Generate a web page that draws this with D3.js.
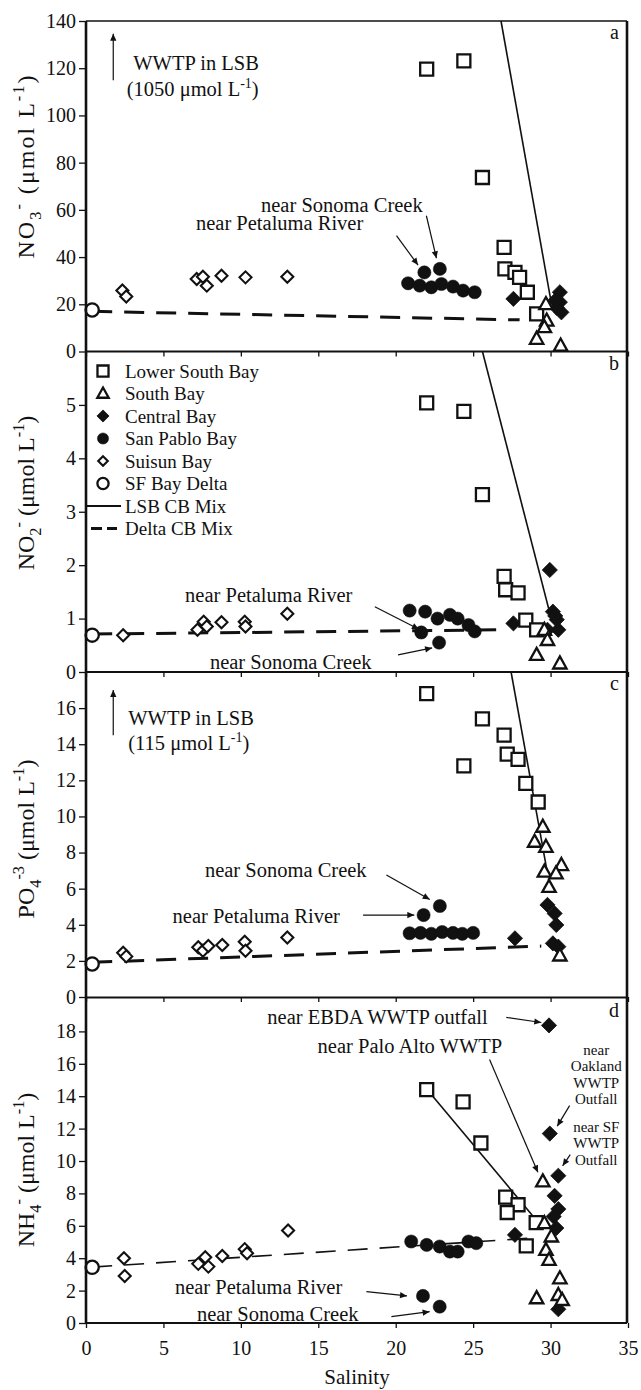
<!DOCTYPE html>
<html>
<head>
<meta charset="utf-8">
<script src="https://cdn.jsdelivr.net/npm/d3@7"></script>
<style>
  body { margin: 0; background: #fff; }
  svg { display: block; }
  text { font-family: "Liberation Serif", "Times New Roman", serif; fill: #111; }
</style>
</head>
<body>
<svg id="chart" width="641" height="1390"></svg>
<script>
// ---- axis ticks ----
const salinityTicks = [0, 5, 10, 15, 20, 25, 30, 35];
const no3Ticks = [0, 20, 40, 60, 80, 100, 120, 140];
const no2Ticks = [0, 1, 2, 3, 4, 5];
const po4Ticks = [0, 2, 4, 6, 8, 10, 12, 14, 16];
const nh4Ticks = [0, 2, 4, 6, 8, 10, 12, 14, 16, 18];

// ---- nitrate [salinity, µmol/L] ----
const deltaNO3 = [[0.4, 17.6]];
const suisunNO3 = [[2.35, 25.8], [2.6, 23.3], [7.15, 30.7], [7.55, 31.7], [7.8, 27.9], [8.75, 32.1], [10.3, 31.4], [13.0, 31.7]];
const sanPabloNO3 = [[20.8, 28.9], [21.55, 27.9], [22.3, 27.2], [22.95, 28.6], [23.7, 27.5], [24.35, 25.8], [25.1, 25.1], [21.85, 33.5], [22.85, 35.0]];
const centralNO3 = [[27.6, 22.3], [30.6, 25.1], [30.3, 21.6], [30.6, 20.9], [30.7, 16.6], [30.4, 18.5]];
const lsbNO3 = [[22.0, 119.6], [24.4, 123.1], [25.6, 73.7], [27.0, 44.1], [27.05, 35.0], [27.7, 33.5], [28.0, 31.4], [28.5, 25.1], [29.1, 15.9]];
const southBayNO3 = [[29.7, 20.1], [29.75, 13.1], [29.6, 10.3], [29.1, 5.4], [30.65, 2.5]];
const deltaMixNO3 = [[0.4, 17.0], [28.0, 13.4]];
const lsbMixNO3 = [[26.8, 140], [30.0, 22.3]];

// ---- nitrite ----
const deltaNO2 = [[0.4, 0.69]];
const suisunNO2 = [[2.4, 0.69], [7.2, 0.79], [7.6, 0.94], [7.8, 0.85], [8.75, 0.93], [10.25, 0.94], [10.3, 0.85], [13.0, 1.09]];
const sanPabloNO2 = [[20.9, 1.15], [21.9, 1.13], [22.7, 1.0], [23.5, 1.07], [24.0, 1.0], [24.7, 0.88], [25.1, 0.76], [21.65, 0.74], [22.8, 0.55]];
const centralNO2 = [[29.95, 1.91], [27.6, 0.91], [30.15, 1.13], [30.4, 0.98], [30.5, 0.79], [29.8, 0.79], [30.3, 1.05]];
const lsbNO2 = [[22.0, 5.04], [24.4, 4.88], [25.6, 3.32], [27.0, 1.79], [27.1, 1.54], [27.9, 1.48], [28.4, 0.97], [29.1, 0.79]];
const southBayNO2 = [[29.6, 0.79], [29.8, 0.6], [29.1, 0.32], [30.6, 0.16]];
const deltaMixNO2 = [[0.4, 0.71], [26.8, 0.79]];
const lsbMixNO2 = [[25.6, 6], [29.9, 1.16]];

// ---- phosphate ----
const deltaPO4 = [[0.4, 1.83]];
const suisunPO4 = [[2.4, 2.45], [2.6, 2.25], [7.25, 2.75], [7.55, 2.56], [7.9, 2.82], [8.8, 2.88], [10.25, 3.06], [10.3, 2.56], [13.0, 3.3]];
const sanPabloPO4 = [[20.9, 3.53], [21.6, 3.55], [22.3, 3.5], [23.0, 3.6], [23.7, 3.55], [24.3, 3.5], [25.0, 3.55], [21.8, 4.54], [22.85, 5.04]];
const centralPO4 = [[27.7, 3.25], [29.8, 5.1], [30.26, 4.63], [30.37, 3.99], [30.15, 2.97], [30.5, 2.79]];
const lsbPO4 = [[22.0, 16.8], [24.4, 12.8], [25.6, 15.4], [27.0, 14.5], [27.2, 13.45], [27.9, 13.16], [28.4, 11.83], [29.2, 10.8]];
const southBayPO4 = [[29.5, 9.43], [28.97, 8.6], [29.7, 8.32], [30.7, 7.31], [29.6, 6.94], [30.35, 6.85], [29.9, 6.1], [30.6, 2.3]];
const deltaMixPO4 = [[0.4, 1.92], [29.4, 2.82]];
const lsbMixPO4 = [[27.45, 18], [29.8, 6.85]];

// ---- ammonium ----
const deltaNH4 = [[0.4, 3.44]];
const suisunNH4 = [[2.45, 4.0], [2.5, 2.9], [7.25, 3.65], [7.7, 4.06], [7.9, 3.48], [8.8, 4.14], [10.25, 4.56], [10.4, 4.31], [13.05, 5.71]];
const sanPabloNH4 = [[21.0, 5.03], [22.0, 4.82], [22.84, 4.72], [23.5, 4.41], [24.0, 4.41], [24.7, 5.03], [25.2, 4.93], [21.76, 1.67], [22.84, 1.01]];
const centralNH4 = [[29.9, 18.37], [29.95, 11.69], [30.5, 9.09], [30.26, 7.85], [30.5, 7.03], [30.2, 6.57], [30.37, 5.86], [27.7, 5.44], [30.5, 0.85]];
const lsbNH4 = [[22.0, 14.41], [24.35, 13.65], [25.5, 11.11], [27.1, 7.77], [27.9, 7.3], [27.2, 6.82], [29.07, 6.2], [28.43, 4.76]];
const southBayNH4 = [[29.5, 8.74], [29.6, 6.17], [30.05, 5.34], [29.7, 4.51], [29.9, 3.9], [30.6, 2.76], [29.1, 1.53], [30.5, 1.73], [30.75, 1.42]];
const deltaMixNH4 = [[0.4, 3.45], [28.9, 5.25]];
const lsbMixNH4 = [[22.0, 14.45], [29.3, 6.1]];

// ---- legend ----
const legendNames = ["Lower South Bay", "South Bay", "Central Bay", "San Pablo Bay", "Suisun Bay", "SF Bay Delta", "LSB CB Mix", "Delta CB Mix"];

// ================= drawing =================
const svg = d3.select("#chart");
const INK = "#111";
const x = d3.scaleLinear().domain([0, 35]).range([86, 628]);

const defs = svg.append("defs");
defs.append("marker").attr("id", "ah")
  .attr("viewBox", "0 0 10 10").attr("refX", 10).attr("refY", 5)
  .attr("markerWidth", 8).attr("markerHeight", 7)
  .attr("markerUnits", "userSpaceOnUse").attr("orient", "auto")
  .append("path").attr("d", "M0,0.5L10,5L0,9.5Z").attr("fill", INK);

const shapes = {
  square: s => `M${-s},${-s}h${2 * s}v${2 * s}h${-2 * s}Z`,
  triangle: s => `M0,${-s * 1.05}L${s},${s * 0.75}L${-s},${s * 0.75}Z`,
  diamond: s => `M0,${-s}L${s},0L0,${s}L${-s},0Z`
};

// symbol styles per station group
const styles = {
  lsb:      { shape: "square",   size: 6.5, fill: "#fff", sw: 2.3 },
  southBay: { shape: "triangle", size: 6.7, fill: "#fff", sw: 2.3 },
  central:  { shape: "diamond",  size: 7.6, fill: INK,    sw: 0.8 },
  sanPablo: { shape: "circle",   size: 6.6, fill: INK,    sw: 0.5 },
  suisun:   { shape: "diamond",  size: 6.0, fill: "#fff", sw: 2.1 },
  delta:    { shape: "circle",   size: 6.6, fill: "#fff", sw: 2.3 }
};

function drawMarks(g, data, st, sy, scale = 1) {
  if (st.shape === "circle") {
    g.selectAll(null).data(data).join("circle")
      .attr("cx", d => x(d[0])).attr("cy", d => sy(d[1]))
      .attr("r", st.size * scale)
      .attr("fill", st.fill).attr("stroke", INK).attr("stroke-width", st.sw);
  } else {
    g.selectAll(null).data(data).join("path")
      .attr("transform", d => `translate(${x(d[0])},${sy(d[1])})`)
      .attr("d", shapes[st.shape](st.size * scale))
      .attr("fill", st.fill).attr("stroke", INK).attr("stroke-width", st.sw)
      .attr("stroke-linejoin", "miter");
  }
}

function chemTitle(g, parts, cx, cy, fs) {
  const t = g.append("text")
    .attr("transform", `translate(${cx},${cy}) rotate(-90)`)
    .attr("text-anchor", "middle").attr("font-size", fs);
  let shift = 0;
  parts.forEach(([str, kind]) => {
    const target = kind === "sub" ? fs * 0.3 : kind === "sup" ? -fs * 0.42 : 0;
    t.append("tspan").attr("dy", target - shift)
      .attr("font-size", kind ? fs * 0.68 : fs).text(str);
    shift = target;
  });
  return t;
}

function richText(g, parts, px, py, fs, anchor = "start") {
  const t = g.append("text").attr("x", px).attr("y", py)
    .attr("font-size", fs).attr("text-anchor", anchor);
  let shift = 0;
  parts.forEach(([str, kind]) => {
    const target = kind === "sup" ? -fs * 0.4 : 0;
    t.append("tspan").attr("dy", target - shift)
      .attr("font-size", kind ? fs * 0.68 : fs).text(str);
    shift = target;
  });
  return t;
}

function arrow(g, sy, from, to) {
  g.append("line")
    .attr("x1", x(from[0])).attr("y1", sy(from[1]))
    .attr("x2", x(to[0])).attr("y2", sy(to[1]))
    .attr("stroke", INK).attr("stroke-width", 1.2)
    .attr("marker-end", "url(#ah)");
}

const panels = [
  { tag: "a", top: 21, bottom: 351.5, max: 140, ticks: no3Ticks,
    title: [["NO"], ["3", "sub"], ["-", "sup"], [" (μmol L"], ["-1", "sup"], [")"]], titleY: 167, titleLen: 183,
    delta: deltaNO3, suisun: suisunNO3, sanPablo: sanPabloNO3, central: centralNO3, lsb: lsbNO3, southBay: southBayNO3,
    deltaMix: deltaMixNO3, lsbMix: lsbMixNO3, dash: 3 },
  { tag: "b", top: 351.5, bottom: 672, max: 6, ticks: no2Ticks,
    title: [["NO"], ["2", "sub"], ["-", "sup"], [" (μmol L"], ["-1", "sup"], [")"]], titleY: 493, titleLen: 0,
    delta: deltaNO2, suisun: suisunNO2, sanPablo: sanPabloNO2, central: centralNO2, lsb: lsbNO2, southBay: southBayNO2,
    deltaMix: deltaMixNO2, lsbMix: lsbMixNO2, dash: 3 },
  { tag: "c", top: 672, bottom: 997, max: 18, ticks: po4Ticks,
    title: [["PO"], ["4", "sub"], ["-3", "sup"], [" (μmol L"], ["-1", "sup"], [")"]], titleY: 839, titleLen: 0,
    delta: deltaPO4, suisun: suisunPO4, sanPablo: sanPabloPO4, central: centralPO4, lsb: lsbPO4, southBay: southBayPO4,
    deltaMix: deltaMixPO4, lsbMix: lsbMixPO4, dash: 3 },
  { tag: "d", top: 999, bottom: 1323, max: 20, ticks: nh4Ticks,
    title: [["NH"], ["4", "sub"], ["-", "sup"], [" (μmol L"], ["-1", "sup"], [")"]], titleY: 1170, titleLen: 0,
    delta: deltaNH4, suisun: suisunNH4, sanPablo: sanPabloNH4, central: centralNH4, lsb: lsbNH4, southBay: southBayNH4,
    deltaMix: deltaMixNH4, lsbMix: lsbMixNH4, dash: 1.6 }
];

const line = d3.line();

panels.forEach((p, i) => {
  const y = d3.scaleLinear().domain([0, p.max]).range([p.bottom, p.top]);
  const g = svg.append("g");

  // y axis ticks and labels
  const ya = g.append("g").attr("transform", `translate(${x(0)},0)`)
    .call(d3.axisLeft(y).tickValues(p.ticks).tickSize(7).tickPadding(3).tickFormat(d3.format("d")));
  ya.select(".domain").remove();
  ya.selectAll("line").attr("stroke", INK).attr("stroke-width", 1.3);
  ya.selectAll("text").attr("font-size", 20).attr("font-family", null).attr("fill", INK);

  // x axis ticks (labels only on the bottom panel)
  const last = i === panels.length - 1;
  const xa = g.append("g").attr("transform", `translate(0,${p.bottom})`)
    .call(d3.axisBottom(x).tickValues(salinityTicks).tickSize(5).tickPadding(13)
      .tickFormat(last ? d3.format("d") : () => ""));
  xa.select(".domain").remove();
  xa.selectAll("line").attr("stroke", INK).attr("stroke-width", 1.3);
  xa.selectAll("text").attr("font-size", 20).attr("font-family", null).attr("fill", INK);

  // y axis title
  const tt = chemTitle(g, p.title, 34, p.titleY, 24);
  if (p.titleLen) tt.attr("textLength", p.titleLen).attr("lengthAdjust", "spacing");

  // mixing lines
  g.append("path").attr("d", line(p.deltaMix.map(d => [x(d[0]), y(d[1])])))
    .attr("fill", "none").attr("stroke", INK).attr("stroke-width", p.dash)
    .attr("stroke-dasharray", "20,12");
  g.append("path").attr("d", line(p.lsbMix.map(d => [x(d[0]), y(d[1])])))
    .attr("fill", "none").attr("stroke", INK).attr("stroke-width", 1.6);

  // station symbols
  drawMarks(g, p.suisun, styles.suisun, y);
  drawMarks(g, p.delta, styles.delta, y);
  drawMarks(g, p.sanPablo, styles.sanPablo, y);
  drawMarks(g, p.central, styles.central, y);
  drawMarks(g, p.lsb, styles.lsb, y);
  drawMarks(g, p.southBay, styles.southBay, y);

  // panel letter
  g.append("text").attr("x", 619).attr("y", y(p.max) + 18).attr("text-anchor", "end")
    .attr("font-size", 20).text(p.tag);

  p.y = y;
  p.g = g;
});

// ---- annotations ----
const [pa, pb, pc, pd] = panels;
const AF = 20.5;

// panel a
richText(pa.g, [["WWTP in LSB"]], x(3.05), pa.y(119.3), AF);
richText(pa.g, [["(1050 μmol L"], ["-1", "sup"], [")"]], x(2.63), pa.y(108.3), AF);
arrow(pa.g, pa.y, [1.76, 114.9], [1.76, 134.6]);
richText(pa.g, [["near Sonoma Creek"]], x(11.3), pa.y(59.3), AF);
arrow(pa.g, pa.y, [21.98, 57.5], [22.63, 39.5]);
richText(pa.g, [["near Petaluma River"]], x(7.1), pa.y(51.3), AF);
arrow(pa.g, pa.y, [20.05, 49.1], [21.44, 36.6]);

// panel b
richText(pb.g, [["near Petaluma River"]], x(6.4), pb.y(1.31), AF);
arrow(pb.g, pb.y, [18.65, 1.22], [21.5, 0.8]);
richText(pb.g, [["near Sonoma Creek"]], x(8.0), pb.y(0.06), AF);
arrow(pb.g, pb.y, [20.15, 0.32], [22.35, 0.45]);

// panel c
richText(pc.g, [["WWTP in LSB"]], x(2.73), pc.y(15.04), AF);
richText(pc.g, [["(115 μmol L"], ["-1", "sup"], [")"]], x(2.73), pc.y(13.66), AF);
arrow(pc.g, pc.y, [1.76, 14.5], [1.76, 17.0]);
richText(pc.g, [["near Sonoma Creek"]], x(7.68), pc.y(6.64), AF);
arrow(pc.g, pc.y, [19.4, 6.76], [22.2, 5.4]);
richText(pc.g, [["near Petaluma River"]], x(5.59), pc.y(4.1), AF);
arrow(pc.g, pc.y, [17.89, 4.54], [21.2, 4.54]);

// panel d
richText(pd.g, [["near EBDA WWTP outfall"]], x(25.94), pd.y(18.43), AF, "end");
arrow(pd.g, pd.y, [27.14, 18.86], [29.4, 18.55]);
richText(pd.g, [["near Palo Alto WWTP"]], x(26.88), pd.y(16.65), AF, "end");
arrow(pd.g, pd.y, [26.06, 16.26], [29.18, 9.3]);
["near", "Oakland", "WWTP", "Outfall"].forEach((s, k) =>
  richText(pd.g, [[s]], x(32.95), pd.y(16.57) + k * 16.5, 15, "middle"));
arrow(pd.g, pd.y, [31.23, 13.42], [30.43, 12.15]);
["near SF", "WWTP", "Outfall"].forEach((s, k) =>
  richText(pd.g, [[s]], x(32.95), pd.y(11.81) + k * 16.5, 15, "middle"));
arrow(pd.g, pd.y, [31.27, 10.39], [30.78, 9.7]);
richText(pd.g, [["near Petaluma River"]], x(5.74), pd.y(1.79), AF);
arrow(pd.g, pd.y, [18.11, 1.94], [20.73, 1.67]);
richText(pd.g, [["near Sonoma Creek"]], x(7.16), pd.y(0.12), AF);
arrow(pd.g, pd.y, [19.72, 0.39], [22.19, 0.7]);

// ---- legend (panel b) ----
const lg = svg.append("g");
const legendStyles = [styles.lsb, styles.southBay, styles.central, styles.sanPablo, styles.suisun, styles.delta];
legendNames.forEach((name, k) => {
  const cy = 371 + k * 22.5;
  if (k < 6) {
    const st = legendStyles[k];
    const item = lg.append("g");
    if (st.shape === "circle") {
      item.append("circle").attr("cx", 103).attr("cy", cy).attr("r", st.size * 0.85)
        .attr("fill", st.fill).attr("stroke", INK).attr("stroke-width", st.sw);
    } else {
      item.append("path").attr("transform", `translate(103,${cy})`)
        .attr("d", shapes[st.shape](st.size * (st.shape === "diamond" ? 0.8 : 0.85)))
        .attr("fill", st.fill).attr("stroke", INK).attr("stroke-width", st.sw);
    }
  } else if (k === 6) {
    lg.append("line").attr("x1", 86).attr("x2", 121).attr("y1", cy).attr("y2", cy)
      .attr("stroke", INK).attr("stroke-width", 1.8);
  } else {
    lg.append("line").attr("x1", 91).attr("x2", 117).attr("y1", cy).attr("y2", cy)
      .attr("stroke", INK).attr("stroke-width", 3).attr("stroke-dasharray", "11,5");
  }
  lg.append("text").attr("x", 125).attr("y", cy + 6.5).attr("font-size", 19).text(name);
});

// ---- frame ----
const fr = svg.append("g").attr("stroke", INK).attr("fill", "none");
fr.append("line").attr("x1", x(0)).attr("x2", x(0)).attr("y1", panels[0].top).attr("y2", 1323).attr("stroke-width", 2.6);
fr.append("line").attr("x1", 627).attr("x2", 627).attr("y1", panels[0].top).attr("y2", 1323).attr("stroke-width", 2.6);
fr.append("line").attr("x1", x(0)).attr("x2", 627).attr("y1", panels[0].top).attr("y2", panels[0].top).attr("stroke-width", 1.6);
[351.5, 672, 997.5, 1323].forEach(yy =>
  fr.append("line").attr("x1", x(0)).attr("x2", 627).attr("y1", yy).attr("y2", yy).attr("stroke-width", 2.2));

// x axis title
svg.append("text").attr("x", 357).attr("y", 1384).attr("text-anchor", "middle")
  .attr("font-size", 21).text("Salinity");
</script>
</body>
</html>
